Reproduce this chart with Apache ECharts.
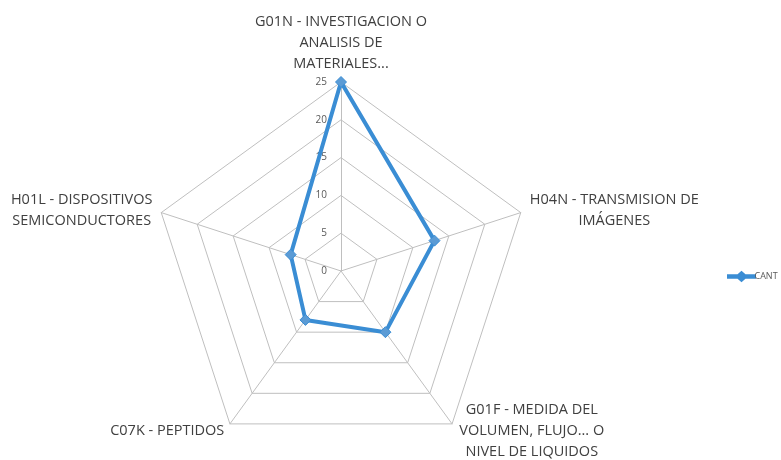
<!DOCTYPE html>
<html>
<head>
<meta charset="utf-8">
<script src="https://cdn.jsdelivr.net/npm/echarts@6/dist/echarts.min.js"></script>
<style>
  html, body { margin: 0; padding: 0; background: #fff; }
  #chart { width: 781px; height: 460px; }
</style>
</head>
<body>
<div id="chart"></div>
<script>
// Radar axes, listed counter-clockwise starting from the top
const categories = [
  'G01N - INVESTIGACION O\nANALISIS DE\nMATERIALES...',
  'H01L - DISPOSITIVOS\nSEMICONDUCTORES',
  'C07K - PEPTIDOS',
  'G01F - MEDIDA DEL\nVOLUMEN, FLUJO... O\nNIVEL DE LIQUIDOS',
  'H04N - TRANSMISION DE\nIMÁGENES'
];
const cantValues = [25, 7, 8, 10, 13];
const seriesName = 'CANT';
const axisMax = 25;

// width of the box each axis name is centred in
const nameWidths = [200, 144, 116, 150, 172];

const chart = echarts.init(document.getElementById('chart'));
const FONT = 'Open Sans';

// legend glyph: a thick line with a diamond marker in the middle
const legendIcon = 'path://M0,3.5 H11 L15,0 L19,3.5 H30 V6.5 H19 L15,10 L11,6.5 H0 Z';

chart.setOption({
  animation: false,
  textStyle: { fontFamily: FONT },
  legend: {
    data: [{ name: seriesName, icon: legendIcon }],
    left: 722,
    top: 266,
    itemWidth: 28,
    itemHeight: 9,
    itemGap: 0,
    itemStyle: { color: '#3a8dd4' },
    textStyle: { fontSize: 9, color: '#595959', padding: [0, 0, 0, -6] }
  },
  radar: {
    center: [341, 271],
    radius: 189,
    startAngle: 90,
    shape: 'polygon',
    splitNumber: 5,
    indicator: categories.map((c, i) => i === 0
      ? { name: c, min: 0, max: axisMax, axisLabel: { show: true } }
      : { name: c, min: 0, max: axisMax }),
    axisName: {
      color: '#404040',
      fontSize: 15,
      fontFamily: FONT,
      formatter: (name) => {
        const idx = categories.indexOf(name);
        const key = 'w' + idx;
        return name.split('\n').map(l => '{' + key + '|' + l + '}').join('\n');
      },
      rich: Object.fromEntries(nameWidths.map((w, i) => ['w' + i, {
        width: w, align: 'center', fontSize: 14.5, lineHeight: 21, color: '#404040', fontFamily: FONT
      }]))
    },
    nameGap: 8,
    axisLine: { lineStyle: { color: '#bfbfbf', width: 1 } },
    splitLine: { lineStyle: { color: '#bfbfbf', width: 1 } },
    splitArea: { show: false },
    axisTick: { show: false },
    axisLabel: {
      show: false,
      color: '#595959',
      fontSize: 10,
      margin: 14
    }
  },
  series: [{
    type: 'radar',
    name: seriesName,
    symbol: 'diamond',
    symbolSize: 11,
    lineStyle: { color: '#3a8dd4', width: 4 },
    itemStyle: { color: '#5b9bd5', borderColor: '#3a8dd4', borderWidth: 1 },
    data: [{ value: cantValues, name: seriesName }]
  }]
});
</script>
</body>
</html>
